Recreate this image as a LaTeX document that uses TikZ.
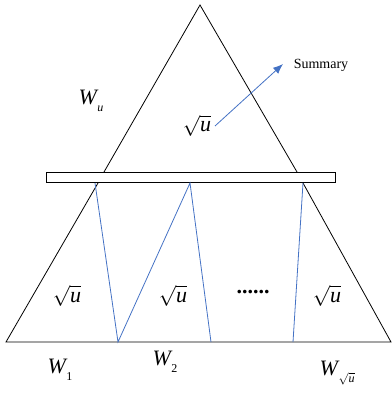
\documentclass[tikz,border=0pt]{standalone}
\usepackage{fontspec}
\setmainfont{Liberation Serif}
\usepackage{tikz}
\usetikzlibrary{arrows.meta}
\definecolor{lineblue}{RGB}{68,114,196}
\newcommand{\squ}{$\sqrt{\mbox{\itshape u}}$}
\newcommand{\Wsub}[1]{\textit{W}\kern-1pt\raisebox{-0.3em}{\fontsize{12}{13}\selectfont #1}}

\begin{document}
\begin{tikzpicture}[x=1pt,y=-1pt]
\tikzstyle{every node}=[inner sep=0pt]
\tikzstyle{lbl}=[font=\fontsize{22}{26}\selectfont]
\tikzstyle{blueline}=[draw=lineblue,line width=0.8pt]
\useasboundingbox (0,0) rectangle (391,393);
% top triangle
\coordinate (apex) at (200,5);
\coordinate (tl) at (104,172);
\coordinate (tr) at (297,172);
\draw[line width=0.8pt] (tl) -- (apex) -- (tr);
% bar
\node[draw,line width=0.8pt,minimum width=289pt,minimum height=10pt] (bar) at (190.5,177.5) {};
% bottom trapezoid
\coordinate (bl) at (6,342);
\coordinate (br) at (391,342);
\coordinate (ul) at (98,183);
\coordinate (ur) at (303,183);
\draw[line width=0.8pt] (ul) -- (bl) -- (br) -- (ur);
% blue partition lines
\coordinate (p1) at (95,183);
\coordinate (q1) at (118,342);
\coordinate (p2) at (190,183);
\coordinate (q2) at (211,342);
\coordinate (p3) at (303,183);
\coordinate (q3) at (293,342);
\draw[blueline] (p1) -- (q1) -- (p2) -- (q2);
\draw[blueline] (p3) -- (q3);
% labels
\node[lbl] (wu) at (91,101) {\Wsub{\itshape u}};
\node[lbl] (top) at (197,126) {\squ};
\node[font=\fontsize{14}{16}\selectfont] (sum) at (321,65) {Summary};
\coordinate (s) at (215,126);
\coordinate (t) at (283,64);
\draw[blueline,-{Latex[length=10pt,width=8pt]}] (s) -- (t);
\node[lbl] (c1) at (67,296) {\squ};
\node[lbl] (c2) at (173,296) {\squ};
\node[lbl] (dots) at (253,292) {\textbf{......}};
\node[lbl] (c3) at (327,296) {\squ};
\node[lbl] (w1) at (60,370) {\Wsub{1}};
\node[lbl] (w2) at (165,362) {\Wsub{2}};
\node[lbl] (wn) at (337,373) {\Wsub{\squ}};
\end{tikzpicture}
\end{document}
